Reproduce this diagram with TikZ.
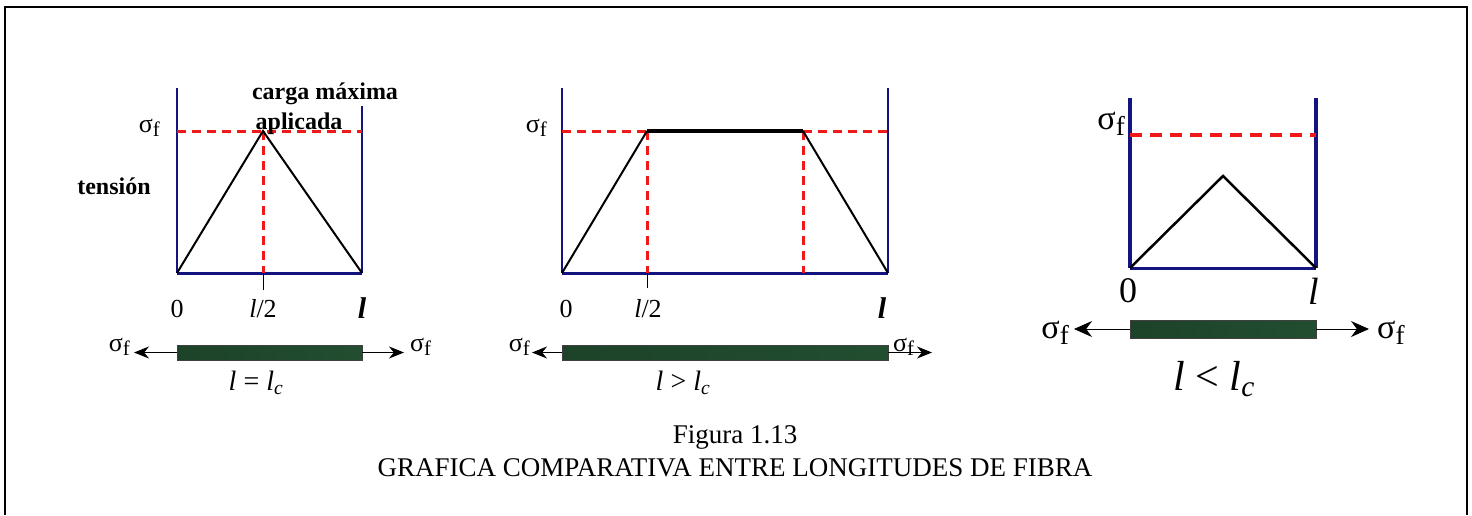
\documentclass[tikz,border=0pt]{standalone}
\usepackage{fontspec}
\setmainfont{Liberation Serif}
\usetikzlibrary{arrows.meta}

\definecolor{axisblue}{RGB}{20,20,128}
\definecolor{dashred}{RGB}{240,25,25}
\definecolor{fibergreen}{RGB}{34,78,48}
\newcommand{\sigf}{σ\raisebox{-.35ex}{\scalebox{.8}{f}}}

\tikzset{
  axis/.style={draw=axisblue, line width=2.2pt},
  base/.style={draw=axisblue, line width=3pt},
  limit/.style={draw=dashred, line width=3pt, dash pattern=on 9pt off 6pt},
  load/.style={draw=black, line width=2pt},
  fiber/.style={draw=black!75, line width=.6pt, left color=fibergreen!85!black, middle color=fibergreen!80!white, right color=fibergreen},
  pull/.style={-{Stealth[length=15pt,width=12pt]}, line width=1pt},
  lbl/.style={inner sep=0pt, font=\fontsize{26}{28}\selectfont},
  boldlbl/.style={inner sep=0pt, font=\fontsize{24}{26}\selectfont\bfseries},
  biglbl/.style={inner sep=0pt, font=\fontsize{34}{36}\selectfont},
  caption/.style={inner sep=0pt, font=\fontsize{27}{30}\selectfont}
}

\begin{document}
\begin{tikzpicture}[x=1pt, y=-1pt]
\useasboundingbox (0,0) rectangle (1472,515);
\draw[line width=2pt] (5,515) -- (5,7) -- (1467,7) -- (1467,515);

% l = lc
\coordinate (a0) at (177,273);
\coordinate (al) at (362,273);
\coordinate (apk) at (263,131);
\draw[axis] (177,88) -- (a0);
\draw[axis] (362,88) -- (al);
\draw[base] (a0) -- (al);
\draw[limit] (177,131) -- (362,131);
\draw[limit] (apk) -- (263,273);
\draw[thin] (263,273) -- (263,290);
\draw[load] (a0) -- (apk) -- (al);
\node[boldlbl, fill=white, inner sep=1pt] (acarga) at (325,94) {carga máxima};
\node[boldlbl] (aaplic) at (299,124) {aplicada};
\node[boldlbl] (aten) at (114,186) {tensión};
\node[lbl, anchor=east] (asig) at (160,128) {\sigf};
\node[lbl] (azero) at (177,309) {0};
\node[lbl] (ahalf) at (263,309) {\textit{l}/2};
\node[lbl, font=\fontsize{30}{32}\selectfont\bfseries\itshape] (alen) at (362,308) {l};
\node[fiber, minimum width=185pt, minimum height=15pt, inner sep=0pt] (afib) at (269.5,352.5) {};
\coordinate (atl) at (134,352.5);
\coordinate (atr) at (404,352.5);
\node[lbl, anchor=east] (asl) at (130,347) {\sigf};
\node[lbl, anchor=west] (asr) at (410,347) {\sigf};
\draw[pull] (afib.west) -- (atl);
\draw[pull] (afib.east) -- (atr);
\node[lbl, font=\fontsize{28}{30}\selectfont\itshape] (aeq) at (256,383) {l {\upshape=} l\textsubscript{c}};

% l > lc
\coordinate (b0) at (562,273);
\coordinate (bl) at (888,273);
\coordinate (bp1) at (647,131);
\coordinate (bp2) at (803,131);
\draw[axis] (562,88) -- (b0);
\draw[axis] (888,88) -- (bl);
\draw[base] (b0) -- (bl);
\draw[limit] (562,131) -- (bp1);
\draw[limit] (bp2) -- (888,131);
\draw[limit] (bp1) -- (647,273);
\draw[limit] (bp2) -- (803,273);
\draw[thin] (647,273) -- (647,288);
\draw[load] (b0) -- (bp1);
\draw[load] (bp2) -- (bl);
\draw[line width=3.5pt] (bp1) -- (bp2);
\node[lbl, anchor=east] (bsig) at (547,128) {\sigf};
\node[lbl] (bzero) at (566,309) {0};
\node[lbl] (bhalf) at (648,309) {\textit{l}/2};
\node[lbl, font=\fontsize{30}{32}\selectfont\bfseries\itshape] (blen) at (882,308) {l};
\node[fiber, minimum width=326pt, minimum height=15pt, inner sep=0pt] (bfib) at (725,352.5) {};
\coordinate (btl) at (532,352.5);
\coordinate (btr) at (932,352.5);
\node[lbl, anchor=east] (bsl) at (530,347) {\sigf};
\node[lbl, anchor=west] (bsr) at (893,347) {\sigf};
\draw[pull] (bfib.west) -- (btl);
\draw[pull] (bfib.east) -- (btr);
\node[lbl, font=\fontsize{28}{30}\selectfont\itshape] (bgt) at (683,383) {l {\upshape>} l\textsubscript{c}};

% l < lc
\coordinate (c0) at (1130,268);
\coordinate (cl) at (1316,268);
\coordinate (cpk) at (1223,176);
\draw[axis, line width=4pt] (1130,98) -- (c0);
\draw[axis, line width=4pt] (1316,98) -- (cl);
\draw[base] (c0) -- (cl);
\draw[limit, line width=4pt, dash pattern=on 12pt off 8pt] (1130,135) -- (1316,135);
\draw[load, line width=2.5pt] (c0) -- (cpk) -- (cl);
\node[biglbl, font=\fontsize{34}{36}\selectfont, anchor=east] (csig) at (1125,124) {\sigf};
\node[biglbl, font=\fontsize{36}{38}\selectfont] (czero) at (1128,291) {0};
\node[biglbl, font=\fontsize{38}{40}\selectfont\itshape] (clen) at (1314,291) {l};
\node[fiber, minimum width=186pt, minimum height=18pt, inner sep=0pt] (cfib) at (1223,329) {};
\coordinate (ctl) at (1074,329);
\coordinate (ctr) at (1369,329);
\node[biglbl, anchor=east] (csl) at (1069,333) {\sigf};
\node[biglbl, anchor=west] (csr) at (1377,333) {\sigf};
\draw[pull, -{Stealth[length=18pt,width=16pt]}] (cfib.west) -- (ctl);
\draw[pull, -{Stealth[length=18pt,width=16pt]}] (cfib.east) -- (ctr);
\node[biglbl, font=\fontsize{42}{44}\selectfont\itshape] (clt) at (1214,379) {l {\upshape<} l\textsubscript{c}};

% caption
\node[caption] (fig) at (735,437) {Figura 1.13};
\node[caption] (tit) at (735,468) {GRAFICA COMPARATIVA ENTRE LONGITUDES DE FIBRA};
\end{tikzpicture}
\end{document}
